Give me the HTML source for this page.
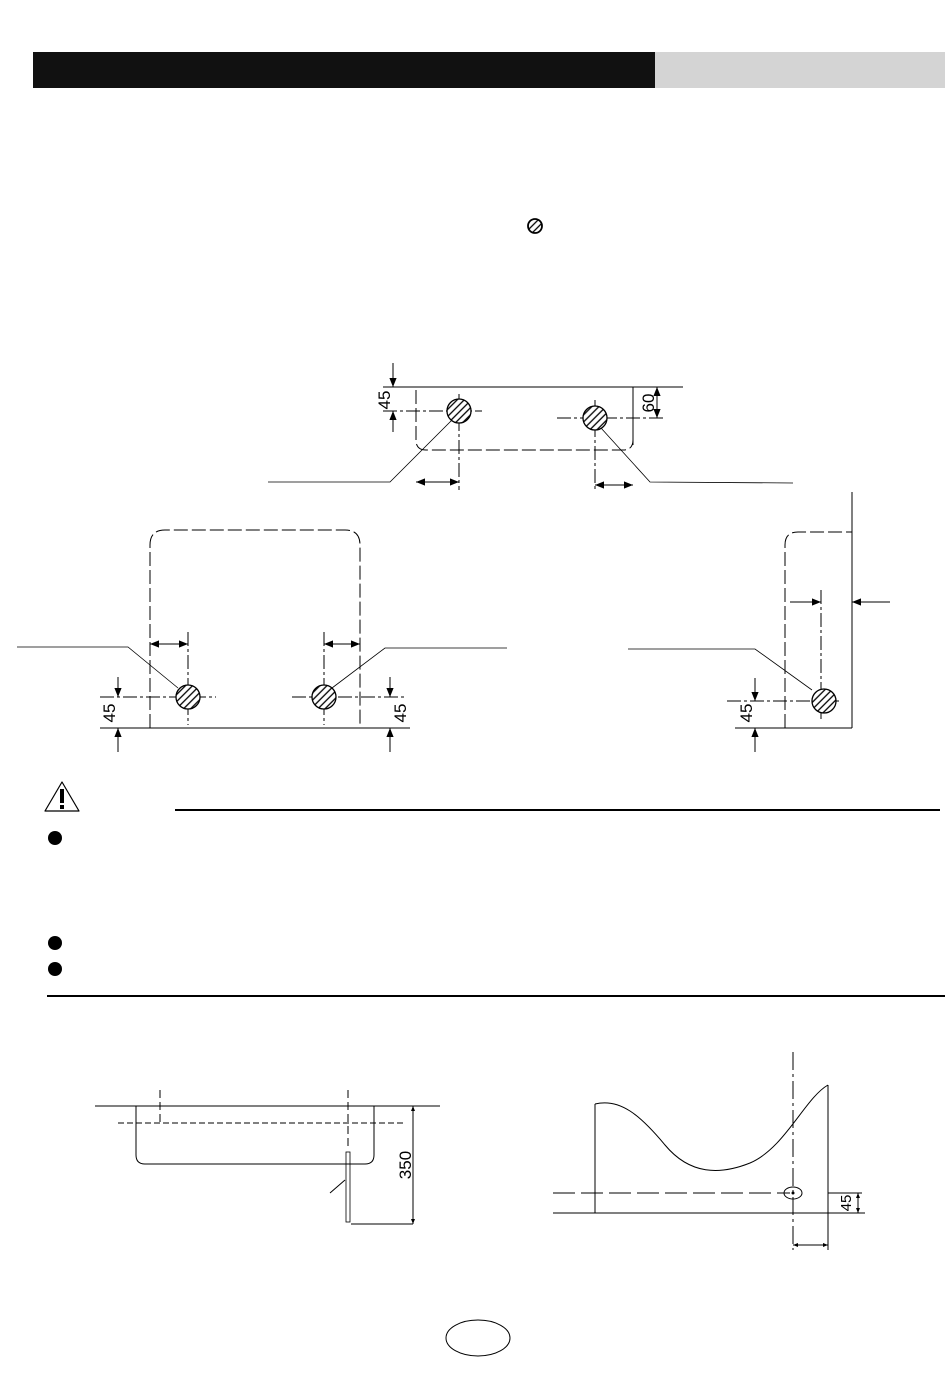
<!DOCTYPE html>
<html><head><meta charset="utf-8"><style>
html,body{margin:0;padding:0;background:#fff;}
svg{display:block;}
text{font-family:"Liberation Sans",sans-serif;fill:#000;}
</style></head><body>
<svg width="950" height="1377" viewBox="0 0 950 1377" xmlns="http://www.w3.org/2000/svg">
<defs>
<pattern id="h" width="5" height="5" patternUnits="userSpaceOnUse" patternTransform="rotate(45)">
<rect width="5" height="5" fill="#fff"/><line x1="1" y1="0" x2="1" y2="5" stroke="#000" stroke-width="1.3"/>
</pattern>
<marker id="a" viewBox="0 0 10 10" refX="10" refY="5" markerWidth="9" markerHeight="9" orient="auto-start-reverse" markerUnits="userSpaceOnUse"><path d="M0,1 L10,5 L0,9Z" fill="#000"/></marker>
<marker id="s" viewBox="0 0 10 10" refX="10" refY="5" markerWidth="5" markerHeight="5" orient="auto-start-reverse" markerUnits="userSpaceOnUse"><path d="M0,1 L10,5 L0,9Z" fill="#000"/></marker>
</defs>
<rect x="33" y="52" width="622" height="36" fill="#111"/>
<rect x="655" y="52" width="290" height="36" fill="#d4d4d4"/>
<circle cx="535" cy="226" r="7" fill="url(#h)" stroke="#000" stroke-width="1.8"/>

<g stroke="#000" fill="none" stroke-width="1">
<line x1="383" y1="387" x2="683" y2="387"/>
<line x1="633" y1="387" x2="633" y2="445"/>
<line x1="393" y1="363" x2="393" y2="387" marker-end="url(#a)"/>
<line x1="393" y1="432" x2="393" y2="411" marker-end="url(#a)"/>
<line x1="383" y1="411" x2="482" y2="411" stroke-dasharray="14,3,3,3"/>
<line x1="557" y1="418" x2="665" y2="418" stroke-dasharray="14,3,3,3"/>
<line x1="657" y1="387" x2="657" y2="418" marker-start="url(#a)" marker-end="url(#a)"/>
<line x1="459" y1="394" x2="459" y2="490" stroke-dasharray="14,3,3,3"/>
<line x1="595" y1="400" x2="595" y2="492" stroke-dasharray="14,3,3,3"/>
<path d="M416,390 V440 Q416,450 426,450 H623 Q633,450 633,440" stroke-dasharray="14,4"/>
<line x1="416" y1="482" x2="459" y2="482" marker-start="url(#a)" marker-end="url(#a)"/>
<line x1="595" y1="485" x2="633" y2="485" marker-start="url(#a)" marker-end="url(#a)"/>
<polyline points="268,482 390,482 452,420" stroke-width="0.8"/>
<polyline points="601,428 650,482 793,483" stroke-width="0.8"/>

<path d="M150,728 V545 Q150,530 165,530 H345 Q360,530 360,545 V728" stroke-dasharray="14,4"/>
<line x1="100" y1="728" x2="410" y2="728"/>
<line x1="100" y1="697" x2="216" y2="697" stroke-dasharray="14,3,3,3"/>
<line x1="292" y1="697" x2="405" y2="697" stroke-dasharray="14,3,3,3"/>
<line x1="188" y1="632" x2="188" y2="725" stroke-dasharray="14,3,3,3"/>
<line x1="324" y1="632" x2="324" y2="725" stroke-dasharray="14,3,3,3"/>
<line x1="150" y1="644" x2="188" y2="644" marker-start="url(#a)" marker-end="url(#a)"/>
<line x1="324" y1="644" x2="360" y2="644" marker-start="url(#a)" marker-end="url(#a)"/>
<line x1="118" y1="677" x2="118" y2="697" marker-end="url(#a)"/>
<line x1="118" y1="752" x2="118" y2="728" marker-end="url(#a)"/>
<line x1="390" y1="677" x2="390" y2="697" marker-end="url(#a)"/>
<line x1="390" y1="752" x2="390" y2="728" marker-end="url(#a)"/>
<polyline points="17,647 128,647 178,688" stroke-width="0.8"/>
<polyline points="332,688 385,648 507,648" stroke-width="0.8"/>

<line x1="852" y1="492" x2="852" y2="728"/>
<line x1="735" y1="728" x2="852" y2="728"/>
<path d="M785,728 V545 Q785,532 798,532 H852" stroke-dasharray="14,4"/>
<line x1="821" y1="590" x2="821" y2="720" stroke-dasharray="14,3,3,3"/>
<line x1="727" y1="701" x2="840" y2="701" stroke-dasharray="14,3,3,3"/>
<line x1="790" y1="602" x2="821" y2="602" marker-end="url(#a)"/>
<line x1="890" y1="602" x2="852" y2="602" marker-end="url(#a)"/>
<line x1="755" y1="678" x2="755" y2="701" marker-end="url(#a)"/>
<line x1="755" y1="752" x2="755" y2="728" marker-end="url(#a)"/>
<polyline points="628,649 755,649 812,690" stroke-width="0.8"/>
</g>
<g stroke="#000" stroke-width="1.3" fill="url(#h)">
<circle cx="459" cy="411" r="12"/><circle cx="595" cy="418" r="12"/>
<circle cx="188" cy="697" r="12"/><circle cx="324" cy="697" r="12"/>
<circle cx="824" cy="701" r="12"/>
</g>
<g font-size="17">
<text transform="translate(390,400) rotate(-90)" text-anchor="middle">45</text>
<text transform="translate(654,403) rotate(-90)" text-anchor="middle">60</text>
<text transform="translate(115,713) rotate(-90)" text-anchor="middle">45</text>
<text transform="translate(406,713) rotate(-90)" text-anchor="middle">45</text>
<text transform="translate(752,713) rotate(-90)" text-anchor="middle">45</text>
</g>

<path d="M62,782 L79,811 L45,811 Z" fill="none" stroke="#000" stroke-width="1.2" stroke-linejoin="round"/>
<rect x="60" y="789" width="4" height="14" fill="#000"/><rect x="60" y="805" width="4" height="4" fill="#000"/>
<line x1="175" y1="810" x2="940" y2="810" stroke="#000" stroke-width="2"/>
<circle cx="55" cy="838" r="7" fill="#000"/>
<circle cx="55" cy="943" r="7" fill="#000"/>
<circle cx="55" cy="969" r="7" fill="#000"/>
<line x1="47" y1="996" x2="945" y2="996" stroke="#000" stroke-width="2"/>

<g stroke="#000" fill="none" stroke-width="1">
<line x1="95" y1="1106" x2="440" y2="1106"/>
<path d="M136,1106 V1155 Q136,1164 145,1164 H365 Q374,1164 374,1155 V1106"/>
<line x1="118" y1="1123" x2="405" y2="1123" stroke-dasharray="6,3"/>
<line x1="160" y1="1090" x2="160" y2="1123" stroke-dasharray="8,4"/>
<line x1="348" y1="1090" x2="348" y2="1150" stroke-dasharray="8,4"/>
<rect x="346" y="1152" width="4" height="70" stroke-width="0.8"/>
<line x1="413" y1="1106" x2="413" y2="1224" marker-start="url(#s)" marker-end="url(#s)"/>
<line x1="351" y1="1224" x2="413" y2="1224"/>
<line x1="330" y1="1193" x2="345" y2="1180"/>
</g>
<text transform="translate(411,1165) rotate(-90)" text-anchor="middle" font-size="17">350</text>

<g stroke="#000" fill="none" stroke-width="1">
<line x1="595" y1="1104" x2="595" y2="1213"/>
<line x1="828" y1="1085" x2="828" y2="1250"/>
<path d="M595,1104 C620,1098 640,1115 665,1145 C690,1175 720,1175 750,1163 C785,1148 805,1098 828,1085"/>
<line x1="553" y1="1193" x2="790" y2="1193" stroke-dasharray="22,6"/>
<line x1="553" y1="1213" x2="865" y2="1213"/>
<line x1="793" y1="1052" x2="793" y2="1250" stroke-dasharray="18,4,3,4"/>
<ellipse cx="793" cy="1193" rx="9" ry="6"/>
<line x1="828" y1="1193" x2="862" y2="1193"/>
<line x1="858" y1="1193" x2="858" y2="1213" marker-start="url(#s)" marker-end="url(#s)"/>
<line x1="793" y1="1245" x2="828" y2="1245" marker-start="url(#s)" marker-end="url(#s)"/>
</g>
<circle cx="793" cy="1193" r="1.5" fill="#000"/>
<text transform="translate(851,1203) rotate(-90)" text-anchor="middle" font-size="15">45</text>

<ellipse cx="478" cy="1338" rx="32" ry="18" fill="none" stroke="#000" stroke-width="1"/>
</svg>
</body></html>
